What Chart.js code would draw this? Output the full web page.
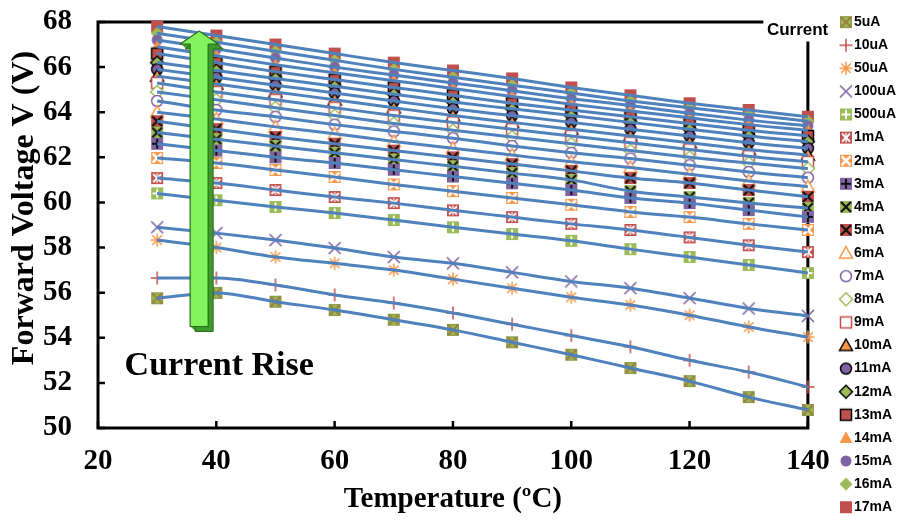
<!DOCTYPE html>
<html>
<head>
<meta charset="utf-8">
<script src="https://cdn.jsdelivr.net/npm/chart.js@4.4.1/dist/chart.umd.min.js"></script>
<style>
  html, body { margin: 0; padding: 0; background: #fff; overflow: hidden; }
  #wrap { width: 906px; height: 524px; }
</style>
</head>
<body>
<div id="wrap"><canvas id="vf" width="906" height="524"></canvas></div>
<script>
// temperatures (degC) on the x axis
var temps = [30, 40, 50, 60, 70, 80, 90, 100, 110, 120, 130, 140];
var xTicks = [20, 40, 60, 80, 100, 120, 140];
var yTicks = [50, 52, 54, 56, 58, 60, 62, 64, 66, 68];

// forward voltage (V) per drive current
var v5uA   = [55.75, 55.99, 55.60, 55.23, 54.80, 54.35, 53.80, 53.25, 52.66, 52.08, 51.37, 50.80];
var v10uA  = [56.65, 56.65, 56.34, 55.90, 55.54, 55.10, 54.60, 54.10, 53.60, 53.00, 52.48, 51.82];
var v50uA  = [58.33, 58.00, 57.58, 57.30, 57.00, 56.60, 56.20, 55.80, 55.45, 55.00, 54.48, 54.03];
var v100uA = [58.90, 58.64, 58.33, 57.98, 57.58, 57.30, 56.90, 56.50, 56.20, 55.76, 55.30, 54.97];
var v500uA = [60.40, 60.10, 59.80, 59.53, 59.22, 58.90, 58.60, 58.30, 57.93, 57.58, 57.23, 56.87];
var v1mA   = [61.08, 60.86, 60.55, 60.24, 59.97, 59.65, 59.35, 59.05, 58.78, 58.45, 58.10, 57.80];
var v2mA   = [61.97, 61.75, 61.44, 61.13, 60.80, 60.50, 60.20, 59.90, 59.58, 59.35, 59.05, 58.78];
var v3mA   = [62.60, 62.30, 62.00, 61.75, 61.45, 61.15, 60.85, 60.55, 60.20, 59.97, 59.66, 59.36];
var v4mA   = [63.10, 62.80, 62.50, 62.20, 61.90, 61.60, 61.30, 61.00, 60.50, 60.24, 59.98, 59.75];
var v5mA   = [63.60, 63.25, 62.90, 62.60, 62.30, 62.00, 61.70, 61.40, 61.08, 60.86, 60.55, 60.25];
var v6mA   = [64.00, 63.70, 63.35, 63.05, 62.70, 62.40, 62.10, 61.80, 61.55, 61.25, 60.95, 60.70];
var v7mA   = [64.50, 64.10, 63.80, 63.45, 63.15, 62.85, 62.50, 62.20, 61.95, 61.65, 61.35, 61.10];
var v8mA   = [64.90, 64.55, 64.20, 63.85, 63.50, 63.20, 62.90, 62.60, 62.30, 62.00, 61.75, 61.50];
var v9mA   = [65.30, 64.90, 64.55, 64.20, 63.85, 63.55, 63.25, 62.95, 62.65, 62.35, 62.05, 61.80];
var v10mA  = [65.60, 65.25, 64.90, 64.55, 64.20, 63.85, 63.55, 63.25, 62.95, 62.65, 62.35, 62.10];
var v11mA  = [65.90, 65.55, 65.20, 64.85, 64.50, 64.15, 63.85, 63.55, 63.25, 62.95, 62.65, 62.40];
var v12mA  = [66.20, 65.85, 65.50, 65.15, 64.80, 64.45, 64.15, 63.85, 63.55, 63.25, 62.95, 62.70];
var v13mA  = [66.60, 66.20, 65.80, 65.45, 65.10, 64.75, 64.40, 64.10, 63.80, 63.50, 63.20, 62.95];
var v14mA  = [66.90, 66.50, 66.10, 65.75, 65.40, 65.05, 64.70, 64.35, 64.05, 63.75, 63.45, 63.20];
var v15mA  = [67.20, 66.80, 66.40, 66.00, 65.65, 65.30, 64.95, 64.60, 64.30, 63.95, 63.65, 63.40];
var v16mA  = [67.50, 67.10, 66.70, 66.30, 65.90, 65.55, 65.20, 64.85, 64.50, 64.20, 63.90, 63.60];
var v17mA  = [67.80, 67.40, 67.00, 66.60, 66.20, 65.85, 65.50, 65.10, 64.75, 64.40, 64.10, 63.80];

var currents = ['5uA', '10uA', '50uA', '100uA', '500uA', '1mA', '2mA', '3mA', '4mA', '5mA', '6mA',
                '7mA', '8mA', '9mA', '10mA', '11mA', '12mA', '13mA', '14mA', '15mA', '16mA', '17mA'];
var series = [v5uA, v10uA, v50uA, v100uA, v500uA, v1mA, v2mA, v3mA, v4mA, v5mA, v6mA,
              v7mA, v8mA, v9mA, v10mA, v11mA, v12mA, v13mA, v14mA, v15mA, v16mA, v17mA];

var GREEN = '#9BBB59', RED = '#C0504D', ORANGE = '#F79646', PURPLE = '#8064A2', BLUE = '#4F81BD';
var SERIF = "'Liberation Serif', 'Times New Roman', serif";
var SANS = "'Liberation Sans', Arial, sans-serif";

// excel style markers drawn on little canvases
function marker(draw) {
    var c = document.createElement('canvas');
    c.width = 16; c.height = 16;
    var g = c.getContext('2d');
    g.translate(8, 8);
    draw(g);
    return c;
}
function box(g, fill, stroke) {
    g.fillStyle = fill;
    g.fillRect(-6, -6, 12, 12);
    if (stroke) { g.strokeStyle = stroke; g.lineWidth = 1.3; g.strokeRect(-5.35, -5.35, 10.7, 10.7); }
}
function segs(g, color, lw, list) {
    g.strokeStyle = color; g.lineWidth = lw;
    g.beginPath();
    list.forEach(function (s) { g.moveTo(s[0], s[1]); g.lineTo(s[2], s[3]); });
    g.stroke();
}
function X(r) { return [[-r, -r, r, r], [r, -r, -r, r]]; }
function P(r) { return [[0, -r, 0, r], [-r, 0, r, 0]]; }
function shape(g, kind, fill, stroke, lw) {
    g.beginPath();
    if (kind == 'tri') { g.moveTo(0, -6.5); g.lineTo(6.5, 5); g.lineTo(-6.5, 5); g.closePath(); }
    if (kind == 'circ') { g.arc(0, 0, 5.5, 0, Math.PI * 2); }
    if (kind == 'dia') { g.moveTo(0, -6.5); g.lineTo(6.5, 0); g.lineTo(0, 6.5); g.lineTo(-6.5, 0); g.closePath(); }
    if (kind == 'sq') { g.rect(-5.5, -5.5, 11, 11); }
    if (fill) { g.fillStyle = fill; g.fill(); }
    if (stroke) { g.strokeStyle = stroke; g.lineWidth = lw; g.stroke(); }
}

var markers = [
    marker(function (g) { box(g, GREEN, '#8E9A45'); segs(g, '#9A8040', 2, X(5)); }),
    marker(function (g) { segs(g, RED, 1.5, P(6.5)); }),
    marker(function (g) { segs(g, ORANGE, 1.5, P(6.5).concat(X(4.8))); }),
    marker(function (g) { segs(g, PURPLE, 1.6, X(6)); }),
    marker(function (g) { box(g, GREEN); segs(g, '#fff', 2, P(4.5)); }),
    marker(function (g) { box(g, RED); segs(g, '#fff', 2, X(4)); segs(g, '#fff', 1.2, [[0, -5, 0, 5]]); }),
    marker(function (g) { box(g, ORANGE); segs(g, '#fff', 2.6, X(4.5)); }),
    marker(function (g) { box(g, PURPLE); segs(g, '#111', 2, P(5)); }),
    marker(function (g) { box(g, GREEN); segs(g, '#111', 2.2, X(5)); }),
    marker(function (g) { box(g, RED); segs(g, '#111', 2.2, X(5)); }),
    marker(function (g) { shape(g, 'tri', '#fff', ORANGE, 1.5); }),
    marker(function (g) { shape(g, 'circ', '#fff', PURPLE, 1.5); }),
    marker(function (g) { shape(g, 'dia', '#fff', GREEN, 1.5); }),
    marker(function (g) { shape(g, 'sq', '#fff', RED, 1.5); }),
    marker(function (g) { shape(g, 'tri', ORANGE, '#000', 1.5); }),
    marker(function (g) { shape(g, 'circ', PURPLE, '#000', 1.5); }),
    marker(function (g) { shape(g, 'dia', GREEN, '#000', 1.5); }),
    marker(function (g) { shape(g, 'sq', RED, '#000', 1.5); }),
    marker(function (g) { shape(g, 'tri', ORANGE); }),
    marker(function (g) { shape(g, 'circ', PURPLE); }),
    marker(function (g) { shape(g, 'dia', GREEN); }),
    marker(function (g) { box(g, RED); })
];

function points(vals) {
    return vals.map(function (v, j) { return {x: temps[j], y: v}; });
}

var datasets = [];
for (let i = 0; i < series.length; i++) {
    datasets.push({
        label: currents[i],
        data: points(series[i]),
        showLine: false,
        pointStyle: markers[i],
        pointRadius: 6,
        pointHoverRadius: 6,
        borderColor: BLUE,
        backgroundColor: BLUE,
        clip: false,
        order: 1
    });
}
// blue fitted curves on top of the markers
for (let i = 0; i < series.length; i++) {
    datasets.push({
        label: '',
        trend: true,
        data: points(series[i]),
        borderColor: BLUE,
        borderWidth: 3,
        pointRadius: 0,
        fill: false,
        tension: 0.4,
        cubicInterpolationMode: 'monotone',
        order: 0
    });
}

var decor = {
    id: 'decor',
    beforeDatasetsDraw: function (chart) {
        var ctx = chart.ctx, a = chart.chartArea, x = chart.scales.x, y = chart.scales.y;
        ctx.save();
        ctx.strokeStyle = '#000';
        ctx.lineWidth = 3;
        ctx.lineCap = 'square';
        ctx.beginPath();
        ctx.moveTo(a.right - 46, a.top);
        ctx.lineTo(a.left, a.top);
        ctx.lineTo(a.left, a.bottom);
        ctx.lineTo(a.right, a.bottom);
        ctx.lineTo(a.right, a.top + 21);
        ctx.stroke();
        ctx.lineWidth = 2.5;
        ctx.lineCap = 'butt';
        ctx.beginPath();
        yTicks.forEach(function (v) {
            var py = y.getPixelForValue(v);
            ctx.moveTo(a.left, py); ctx.lineTo(a.left + 7, py);
        });
        xTicks.forEach(function (v) {
            var px = x.getPixelForValue(v);
            ctx.moveTo(px, a.bottom); ctx.lineTo(px, a.bottom - 7);
        });
        ctx.stroke();

        // y axis title, a little above the plot centre as in the figure
        ctx.fillStyle = '#000';
        ctx.font = 'bold 32px ' + SERIF;
        ctx.textAlign = 'center';
        ctx.textBaseline = 'middle';
        ctx.translate(25, (a.top + a.bottom) / 2 - 17);
        ctx.rotate(-Math.PI / 2);
        ctx.fillText('Forward Voltage V (V)', 0, 0);
        ctx.restore();
    },
    afterDatasetsDraw: function (chart) {
        var ctx = chart.ctx, a = chart.chartArea, x = chart.scales.x, y = chart.scales.y;
        ctx.save();
        // green "current rise" arrow
        var cx = x.getPixelForValue(37.1), top = y.getPixelForValue(67.6), bot = y.getPixelForValue(54.5);
        var hw = 9, hh = 13, head = 19;
        function arrow(dx, dy) {
            ctx.beginPath();
            ctx.moveTo(cx + dx, top + dy);
            ctx.lineTo(cx + head + dx, top + hh + dy);
            ctx.lineTo(cx + hw + dx, top + hh + dy);
            ctx.lineTo(cx + hw + dx, bot + dy);
            ctx.lineTo(cx - hw + dx, bot + dy);
            ctx.lineTo(cx - hw + dx, top + hh + dy);
            ctx.lineTo(cx - head + dx, top + hh + dy);
            ctx.closePath();
        }
        ctx.lineJoin = 'round';
        for (var k = 5; k > 0; k--) {
            arrow(k, k);
            ctx.fillStyle = '#3F9A2C';
            ctx.fill();
        }
        arrow(5, 5);
        ctx.strokeStyle = '#2B6E1C'; ctx.lineWidth = 1; ctx.stroke();
        arrow(0, 0);
        ctx.fillStyle = '#84F45E';
        ctx.fill();
        ctx.strokeStyle = '#2B6E1C'; ctx.lineWidth = 1.2; ctx.stroke();

        ctx.fillStyle = '#000';
        ctx.textBaseline = 'middle';
        ctx.textAlign = 'left';
        ctx.font = 'bold 34px ' + SERIF;
        ctx.fillText('Current Rise', x.getPixelForValue(24.5), y.getPixelForValue(52.75));
        ctx.font = 'bold 17px ' + SANS;
        ctx.fillText('Current', a.right - 41, a.top + 8);
        ctx.restore();
    }
};

new Chart(document.getElementById('vf'), {
    type: 'line',
    data: { datasets: datasets },
    options: {
        responsive: false,
        devicePixelRatio: 1,
        animation: false,
        events: [],
        layout: { padding: { top: 6, right: 0, bottom: 0, left: 0 } },
        plugins: {
            tooltip: { enabled: false },
            legend: {
                position: 'right',
                align: 'start',
                labels: {
                    usePointStyle: true,
                    pointStyleWidth: 2,
                    padding: 9.1,
                    color: '#000',
                    font: { family: SANS, size: 14, weight: 'bold' },
                    filter: function (item, data) { return !data.datasets[item.datasetIndex].trend; }
                }
            }
        },
        scales: {
            x: {
                type: 'linear', position: 'bottom', min: 20, max: 140,
                ticks: { stepSize: 20, padding: 16, maxRotation: 0, color: '#000',
                         font: { family: SERIF, size: 29, weight: 'bold' } },
                grid: { display: false, drawTicks: false },
                border: { display: false },
                title: { display: true, text: 'Temperature (ºC)', color: '#000',
                         font: { family: SERIF, size: 29, weight: 'bold' }, padding: { top: 0, bottom: 7 } },
                afterFit: function (s) { s.height = 96; s.paddingLeft = 0; s.paddingRight = 0; }
            },
            y: {
                type: 'linear', position: 'left', min: 50, max: 68,
                ticks: { stepSize: 2, padding: 26, color: '#000',
                         font: { family: SERIF, size: 29, weight: 'bold' } },
                grid: { display: false, drawTicks: false },
                border: { display: false },
                afterFit: function (s) { s.width = 98; s.paddingTop = 0; s.paddingBottom = 0; }
            },
            xTop: {
                type: 'linear', position: 'top', min: 0, max: 1,
                ticks: { display: false }, grid: { display: false, drawTicks: false }, border: { display: false },
                afterFit: function (s) { s.height = 16; }
            },
            yRight: {
                type: 'linear', position: 'right', min: 0, max: 1,
                ticks: { display: false }, grid: { display: false, drawTicks: false }, border: { display: false },
                afterFit: function (s) { s.width = 28; }
            }
        }
    },
    plugins: [decor]
});
</script>
</body>
</html>
